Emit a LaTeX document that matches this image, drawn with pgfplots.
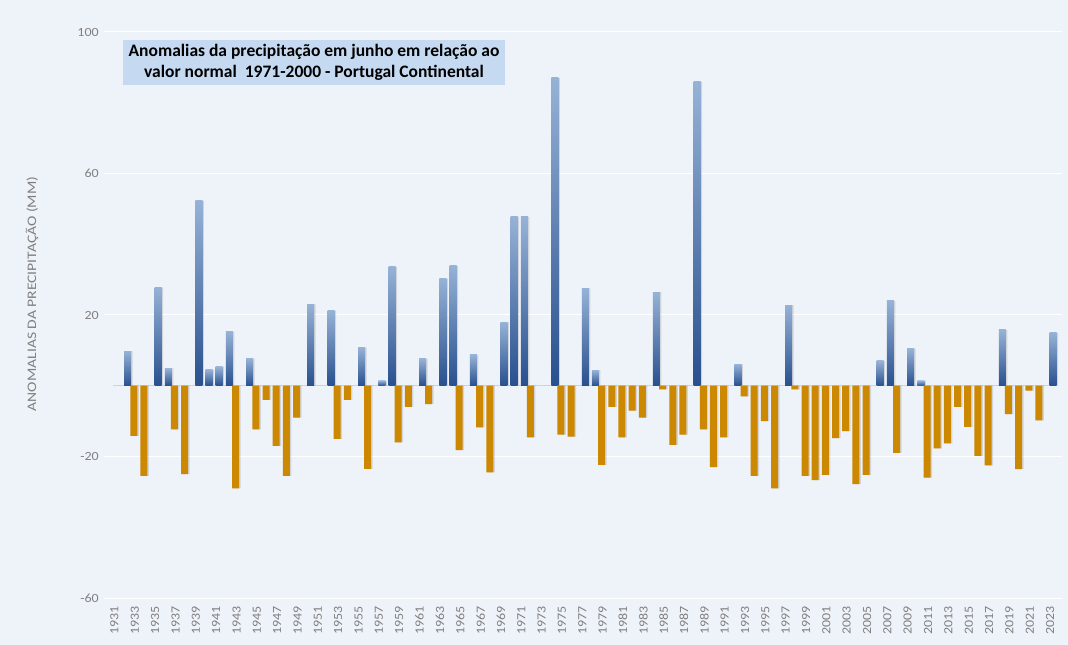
\documentclass[border=0pt]{standalone}
\usepackage{fontspec}
\setmainfont{Carlito}
\newfontfamily\widefont[FakeStretch=1.12]{Carlito}
\newfontfamily\labelfont[FakeStretch=1.2]{Carlito}
\usepackage{pgfplots}
\usepackage{pgfplotstable}
\pgfplotsset{compat=1.18}

\definecolor{bg}{RGB}{238,242,249}
\definecolor{titlebg}{RGB}{197,217,241}
\definecolor{ticktext}{RGB}{128,128,128}
\definecolor{bluetop}{RGB}{150,178,214}
\definecolor{bluemid}{RGB}{84,128,192}
\definecolor{bluebot}{RGB}{40,80,142}
\definecolor{orangebar}{RGB}{204,136,0}

% anomalias positivas (mm)
\pgfplotstableread{
ano valor
1932 9.8
1935 27.8
1936 4.9
1939 52.3
1940 4.5
1941 5.3
1942 15.3
1944 7.7
1950 23.0
1952 21.2
1955 10.8
1957 1.4
1958 33.6
1961 7.6
1963 30.3
1964 33.9
1966 8.7
1969 18.0
1970 47.8
1971 47.8
1974 87.0
1977 27.5
1978 4.4
1984 26.5
1988 86.0
1992 6.1
1997 22.8
2006 7.0
2007 24.0
2009 10.5
2010 1.4
2018 15.8
2023 15.0
}\positivas

% anomalias negativas (mm)
\pgfplotstableread{
ano valor
1933 -14.2
1934 -25.5
1937 -12.3
1938 -25.0
1943 -29.0
1945 -12.3
1946 -4.0
1947 -17.0
1948 -25.5
1949 -9.0
1953 -15.0
1954 -4.0
1956 -23.5
1959 -16.0
1960 -6.0
1962 -5.2
1965 -18.2
1967 -11.8
1968 -24.5
1972 -14.6
1975 -13.8
1976 -14.4
1979 -22.4
1980 -6.0
1981 -14.6
1982 -7.0
1983 -9.0
1985 -1.0
1986 -16.7
1987 -13.8
1989 -12.3
1990 -23.0
1991 -14.6
1993 -3.0
1994 -25.5
1995 -10.0
1996 -29.0
1998 -1.0
1999 -25.5
2000 -26.7
2001 -25.2
2002 -14.8
2003 -12.8
2004 -27.8
2005 -25.2
2008 -19.0
2011 -26.0
2012 -17.7
2013 -16.3
2014 -6.0
2015 -11.6
2016 -19.8
2017 -22.5
2019 -8.0
2020 -23.6
2021 -1.4
2022 -9.8
}\negativas

\begin{document}
\begin{tikzpicture}
\fill[bg] (0pt,0pt) rectangle (1068pt,645pt);
\begin{axis}[
    at={(104.3pt,47pt)}, anchor=south west,
    scale only axis, width=958pt, height=566pt,
    xmin=1930, xmax=2024.2,
    ymin=-60, ymax=100,
    ytick={-60,-20,20,60,100},
    xtick={1931,1933,...,2023},
    /pgf/number format/1000 sep={},
    /pgf/number format/assume math mode=true,
    axis line style={draw=none},
    major tick style={draw=none},
    ymajorgrids, grid style={white, line width=1pt},
    tick label style={font=\widefont\fontsize{12.5}{12.5}\selectfont, text=ticktext},
    x tick label style={rotate=90, anchor=east},
    xticklabel shift=5pt,
    yticklabel shift=2pt,
    clip=false,
  ]
  \draw[gray!35, line width=0.8pt] (axis cs:1930.9,0) -- (axis cs:2023.6,0);
  % sombras
  \addplot[ybar, bar width=7pt, bar shift=4.5pt, draw=none, fill=black, opacity=0.12]
    table[x=ano, y=valor] {\positivas};
  \addplot[ybar, bar width=7pt, bar shift=0.5pt, draw=none, fill=black, opacity=0.12]
    table[x=ano, y=valor] {\negativas};
  % barras azuis, uma a uma para o gradiente
  \pgfplotsinvokeforeach{0,...,32}{%
    \pgfplotstablegetelem{#1}{ano}\of\positivas \let\ano\pgfplotsretval
    \pgfplotstablegetelem{#1}{valor}\of\positivas \let\val\pgfplotsretval
    \edef\doplot{\noexpand\addplot[ybar, bar width=7pt, bar shift=3pt, draw=none,
      top color=bluetop, middle color=bluemid, bottom color=bluebot]
      coordinates {(\ano,\val)};}%
    \doplot
  }
  \addplot[ybar, bar width=7pt, bar shift=-1pt, draw=none,
    fill=orangebar] table[x=ano, y=valor] {\negativas};
\end{axis}
\node[rotate=90, text=ticktext, font=\labelfont\fontsize{13}{13}\selectfont] at (32pt,351pt) {ANOMALIAS DA PRECIPITAÇÃO (MM)};
\node[fill=titlebg, minimum width=382pt, minimum height=45pt, align=center,
  font=\bfseries\fontsize{17.5}{21}\selectfont, inner sep=0pt] at (314pt,582.5pt)
  {Anomalias da precipitação em junho em relação ao\\valor normal\ \ 1971-2000 - Portugal Continental};
\end{tikzpicture}
\end{document}
